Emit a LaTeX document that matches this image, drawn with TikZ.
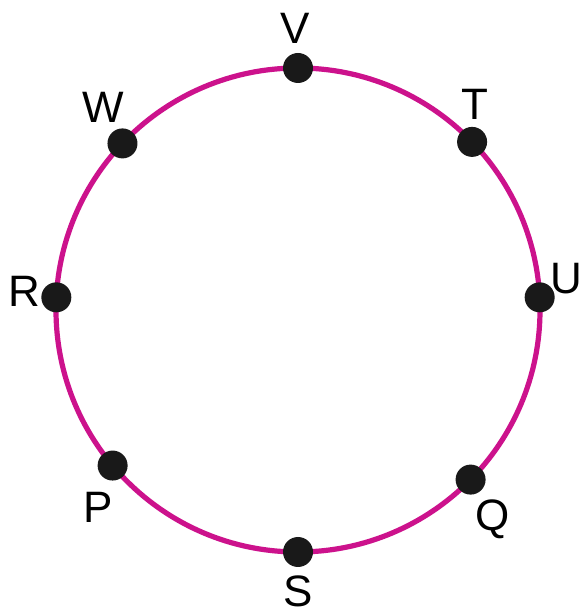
\documentclass[tikz,border=0pt]{standalone}
\usepackage{fontspec}
\setmainfont{Liberation Sans}
\usetikzlibrary{calc}

\definecolor{ringpink}{RGB}{204,18,140}

\begin{document}
\begin{tikzpicture}[
    x=0.5pt, y=0.5pt,
    dot/.style={circle, fill=black!90, inner sep=0pt, minimum size=15pt},
    lbl/.style={inner sep=0pt, font=\fontsize{22}{26}\selectfont}
]
\useasboundingbox (0,0) rectangle (583,615);

% --- Ring ---
\coordinate (c) at (298,305);
\draw[ringpink, line width=2.6pt] (c) circle[radius=242];

% --- Points on the ring ---
\node[dot] (v) at ($(c)+(90:242)$) {};
\node[dot] (t) at ($(c)+(44:242)$) {};
\node[dot] (u) at ($(c)+(3:242)$) {};
\node[dot] (q) at ($(c)+(-44.5:242)$) {};
\node[dot] (s) at ($(c)+(270:242)$) {};
\node[dot] (p) at ($(c)+(220:242)$) {};
\node[dot] (r) at ($(c)+(177:242)$) {};
\node[dot] (w) at ($(c)+(136.5:242)$) {};

% --- Labels ---
\node[lbl] (vl) at ($(v)+(-3,40)$) {V};
\node[lbl] (tl) at ($(t)+(3,38)$) {T};
\node[lbl] (ul) at ($(u)+(27,19)$) {U};
\node[lbl] (ql) at ($(q)+(22,-40)$) {Q};
\node[lbl] (sl) at ($(s)+(0,-39)$) {S};
\node[lbl] (pl) at ($(p)+(-14,-42)$) {P};
\node[lbl] (rl) at ($(r)+(-32,6)$) {R};
\node[lbl] (wl) at ($(w)+(-19,36)$) {W};

\end{tikzpicture}
\end{document}
